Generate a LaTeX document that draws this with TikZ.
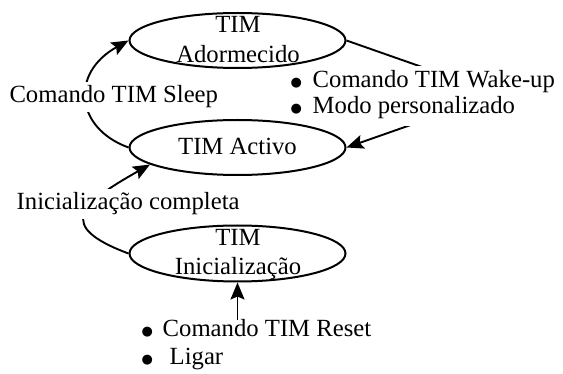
\documentclass[tikz,border=0pt]{standalone}
\usepackage{fontspec}
\setmainfont{Liberation Serif}
\newfontfamily\dejavu{DejaVu Sans}
\usetikzlibrary{shapes.geometric,arrows.meta}
\pgfdeclarelayer{background}
\pgfsetlayers{background,main}
\newcommand{\bigbul}{\raisebox{1.5pt}{\dejavu\fontsize{13}{13}\selectfont ●}}
\begin{document}
\begin{tikzpicture}[x=1pt,y=-1pt,
  state/.style={ellipse, draw, line width=2pt, minimum width=216pt, minimum height=55pt, inner sep=0pt},
  conn/.style={line width=1.9pt, -{Stealth[length=17pt,width=14pt,inset=3pt]}},
  lbl/.style={font=\fontsize{24.7}{26}\selectfont, inner sep=0pt},
  cover/.style={lbl, fill=white}
  ]
\useasboundingbox (0,0) rectangle (563,374);
% states
\node[state] (sleep) at (237.5,40.5) {};
\node[state] (act) at (237.5,147.5) {};
\node[state, minimum height=56pt] (init) at (237.5,253.5) {};
\node[lbl, anchor=base] (sleeptxt) at (238,33) {\fontsize{24.7}{30}\selectfont\begin{tabular}[t]{@{}c@{}}TIM\\Adormecido\end{tabular}};
\node[lbl, anchor=base] (acttxt) at (237.5,155) {TIM Activo};
\node[lbl, anchor=base] (inittxt) at (238,246) {\fontsize{24.7}{29}\selectfont\begin{tabular}[t]{@{}c@{}}TIM\\Inicialização\end{tabular}};
\coordinate (bend) at (499,94);
\coordinate (resetfrom) at (237.5,320);
\begin{pgfonlayer}{background}
\draw[conn] (act.west) .. controls (75,128) and (70,73) .. (sleep.west);
\draw[conn] (sleep.east) -- (bend) -- (act.east);
\draw[conn] (init.west) .. controls (55,226) and (80,204) .. (act.191);
\draw[conn] (resetfrom) -- (init.south);
\node[cover, anchor=base west, inner xsep=1pt, inner ysep=4pt] (sleeplbl) at (8.3,103) {Comando TIM Sleep};
\node[cover, anchor=base west, inner xsep=3pt, inner ysep=4pt] (wakelbl) at (287.5,88) {\begin{tabular}[t]{@{}l@{}}\makebox[22pt][l]{\bigbul}Comando TIM Wake-up\\\makebox[22pt][l]{\bigbul}Modo personalizado\end{tabular}};
\node[cover, anchor=base west, inner xsep=1pt, inner ysep=4pt] (initlbl) at (15.5,210) {Inicialização completa};
\end{pgfonlayer}
\node[lbl, anchor=base west] (resetlbl) at (141.5,337) {\fontsize{24.7}{28}\selectfont\begin{tabular}[t]{@{}l@{}}\makebox[21pt][l]{\bigbul}Comando TIM Reset\\\makebox[21pt][l]{\bigbul}\hspace{7pt}Ligar\end{tabular}};
\end{tikzpicture}
\end{document}
